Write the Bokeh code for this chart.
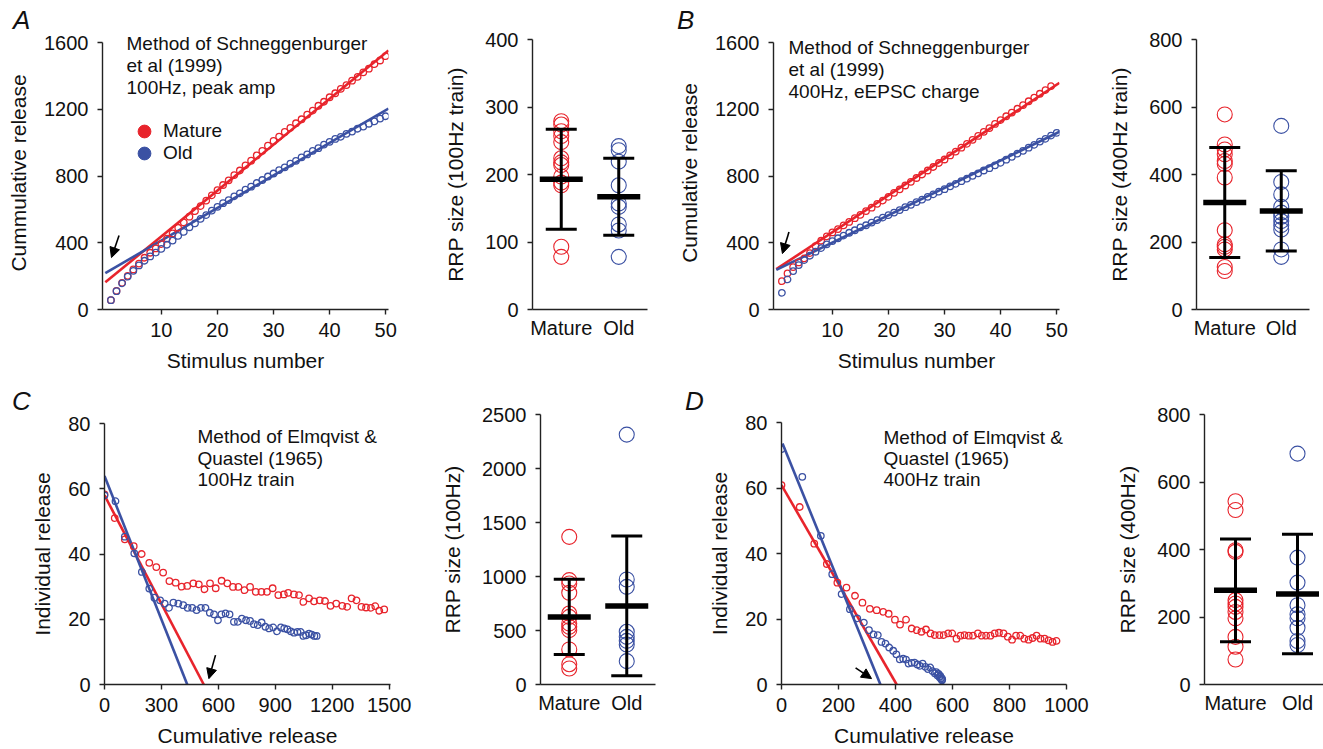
from bokeh.plotting import figure
from bokeh.models import (Range1d, FixedTicker, Label, Arrow, NormalHead, Legend,
                          LegendItem, ColumnDataSource, Div)
from bokeh.layouts import row, column
from bokeh.embed import file_html
from bokeh.resources import INLINE

# ----------------------------------------------------------------- data
groups = ["Mature", "Old"]

# Panel A : Schneggenburger, 100 Hz, peak amp
stim_A = list(range(1, 51))
cum_A_mature = [56, 112, 160, 202, 240, 275, 310, 340, 366, 392,
                425, 456, 490, 522, 556, 589, 620, 652, 684, 715,
                746, 774, 805, 833, 864, 892, 923, 951, 982, 1010,
                1036, 1064, 1088, 1116, 1140, 1168, 1192, 1221, 1245, 1272,
                1296, 1322, 1345, 1371, 1394, 1421, 1443, 1470, 1492, 1518]
cum_A_old = [56, 110, 157, 197, 232, 264, 292, 318, 341, 363,
             388, 413, 441, 465, 493, 516, 543, 566, 592, 615,
             637, 656, 678, 696, 718, 736, 758, 776, 797, 815,
             835, 852, 874, 891, 912, 929, 950, 967, 988, 1005,
             1022, 1035, 1053, 1066, 1083, 1096, 1113, 1127, 1144, 1158]
fit_x_A = [0, 50.5]
fit_A_mature = [163, 1552]
fit_A_old = [218, 1204]

# Panel B : Schneggenburger, 400 Hz, eEPSC charge
stim_B_mature = list(range(1, 50))
stim_B_old = list(range(1, 51))
cum_B_mature = [170, 216, 254, 282, 306, 338, 380, 412, 438, 462,
                482, 504, 525, 547, 567, 590, 610, 633, 653, 675,
                699, 720, 743, 765, 788, 809, 833, 854, 878, 899,
                923, 946, 970, 993, 1017, 1040, 1065, 1087, 1112, 1135,
                1158, 1180, 1203, 1225, 1248, 1270, 1293, 1315, 1338]
cum_B_old = [100, 180, 230, 266, 296, 322, 346, 368, 390, 410,
             427, 443, 460, 475, 492, 505, 521, 535, 551, 565,
             581, 596, 613, 627, 644, 658, 675, 690, 706, 721,
             738, 753, 769, 784, 801, 816, 833, 847, 864, 879,
             898, 915, 934, 951, 970, 987, 1006, 1023, 1042, 1059]
fit_x_B_mature = [0, 50.5]
fit_B_mature = [242, 1358]
fit_x_B_old = [0, 50.8]
fit_B_old = [237, 1070]

# Panel C : Elmqvist & Quastel, 100 Hz
cum_C_mature = [0, 54, 107, 154, 196, 236, 273, 309, 342, 375,
                407, 436, 468, 497, 527, 556, 586, 617, 647, 677,
                706, 738, 767, 797, 827, 856, 886, 916, 945, 968,
                998, 1025, 1048, 1078, 1104, 1134, 1162, 1191, 1221, 1253,
                1279, 1302, 1328, 1354, 1378, 1404, 1427, 1448, 1474]
ind_C_mature = [58.3, 51, 44.5, 42.4, 40, 37.3, 36, 34.3, 31.7, 31.2,
                30, 30.2, 31, 30.7, 29.2, 31, 29.5, 31.8, 31, 29.9,
                29.9, 28.9, 29.9, 28.4, 28.4, 28.4, 29.5, 27.4, 27.6, 28.1,
                27.6, 27.4, 25.3, 26.4, 25.5, 25.8, 25.6, 24.1, 24.8, 24.1,
                23.8, 26.4, 25.8, 23.8, 23.6, 23.5, 24, 22.6, 23]
cum_C_old = [0, 58, 107, 157, 197, 236, 263, 293, 317, 340,
             363, 389, 415, 438, 462, 485, 508, 532, 555, 577,
             598, 616, 638, 659, 682, 703, 724, 746, 767, 787,
             807, 828, 848, 868, 889, 909, 930, 947, 964, 982,
             999, 1017, 1034, 1048, 1062, 1078, 1092, 1106, 1118]
ind_C_old = [58, 56.2, 45.3, 40.2, 34.5, 29.4, 26.6, 25.8, 24.8, 23.5,
             25.1, 24.8, 24.3, 23.5, 23.5, 22.8, 23.5, 23.5, 22, 21.5,
             19.7, 21.5, 21.8, 21.5, 19.2, 19.2, 20.2, 19.7, 19.5, 18.5,
             18.2, 19, 17.7, 17.2, 17.5, 16.3, 17.5, 17.2, 16.9, 16.3,
             15.9, 16.1, 16.1, 14.9, 15.1, 15.6, 15.3, 14.9, 14.9]
fit_C_mature_x = [0, 523]
fit_C_mature_y = [58, 0]
fit_C_old_x = [0, 436]
fit_C_old_y = [63.9, 0]

# Panel D : Elmqvist & Quastel, 400 Hz
cum_D_mature = [0, 64, 115, 159, 196, 228, 258, 284, 310, 334,
                357, 376, 398, 416, 437, 457, 475, 491, 507, 523,
                538, 554, 569, 585, 599, 614, 628, 642, 657, 672,
                689, 703, 718, 733, 748, 763, 779, 794, 809, 823,
                838, 852, 867, 881, 895, 909, 923, 937, 951, 965]
ind_D_mature = [60.9, 54.2, 43, 36.8, 31.1, 29.6, 27.1, 25, 23.1, 22.7,
                22.2, 21.6, 19.8, 18.3, 19.8, 17.1, 16.6, 16.1, 16.8, 15.6,
                15.1, 15.1, 15.1, 15.6, 15.6, 14, 14.9, 15.1, 14.9, 14.9,
                15.6, 14.9, 14.9, 14.9, 15.6, 15.8, 15.6, 14.6, 13.7, 14.9,
                14.9, 14, 13.7, 14.2, 14.9, 14, 14, 13.5, 13, 13.3]
cum_D_old = [0, 73, 138, 178, 211, 240, 266, 289, 307, 323,
             338, 351, 365, 378, 392, 403, 415, 427, 437, 446,
             457, 467, 477, 486, 495, 505, 514, 522, 530, 538,
             543, 547, 551, 554, 557, 559, 561, 563, 564]
ind_D_old = [71.9, 63.4, 45.4, 33.7, 27.6, 23, 20.2, 18.9, 16.6, 15.3,
             15.1, 13, 12.5, 11.3, 10.3, 9.2, 7.7, 7.9, 7.6, 6.4,
             6.6, 6.7, 6.1, 5.7, 6.4, 5.4, 4.7, 5.2, 4.1, 3.4,
             3.8, 2.8, 3.2, 2.3, 2.6, 1.8, 2.0, 1.3, 1.6]
fit_D_mature_x = [0, 404]
fit_D_mature_y = [60.9, 0]
fit_D_old_x = [3.5, 347]
fit_D_old_y = [73.6, 0]

# RRP size scatter panels
rrp_A_mature = [279, 274, 264, 257, 248, 224, 218, 214, 197, 188, 184, 93, 78]
rrp_A_old = [242, 236, 219, 184, 157, 152, 126, 117, 78]
mean_A = [193, 167]
sd_A = [74, 57]

rrp_B_mature = [578, 489, 474, 460, 440, 431, 391, 235, 193, 186, 178, 126, 114]
rrp_B_old = [544, 378, 341, 304, 287, 275, 262, 250, 237, 178, 156]
mean_B = [317, 292]
sd_B = [163, 119]

rrp_C_mature = [1367, 966, 935, 849, 657, 626, 565, 534, 503, 324, 188, 148]
rrp_C_old = [2314, 972, 904, 488, 441, 404, 370, 216]
mean_C = [626, 728]
sd_C = [349, 646]

rrp_D_mature = [543, 517, 398, 393, 250, 240, 230, 215, 196, 141, 112, 74]
rrp_D_old = [684, 376, 302, 235, 208, 196, 168, 129, 117]
mean_D = [279, 268]
sd_D = [152, 177]

# ----------------------------------------------------------------- style
FONT = "Liberation Sans"
RED = "#e8242c"
BLUE = "#3b51a3"
AX = "#222222"
TXT = "#111111"


def make_fig(fw, fh, left, top, right, bottom, xr, yr, xticks, yticks,
             xlabel=None, ylabel=None, xtick_out=5, xlab_overrides=None,
             ybounds=None, ylab_standoff=11):
    p = figure(frame_width=fw, frame_height=fh,
               x_range=Range1d(*xr), y_range=Range1d(*yr),
               output_backend="svg", toolbar_location=None,
               min_border_left=left, min_border_top=top,
               min_border_right=right, min_border_bottom=bottom)
    p.outline_line_color = None
    p.xgrid.visible = False
    p.ygrid.visible = False
    p.background_fill_color = "white"
    p.border_fill_color = "white"
    p.xaxis.ticker = FixedTicker(ticks=xticks)
    p.yaxis.ticker = FixedTicker(ticks=yticks)
    if ybounds:
        p.yaxis.bounds = ybounds
    if xlab_overrides:
        p.xaxis.major_label_overrides = xlab_overrides
    for ax in p.axis:
        ax.axis_line_color = AX
        ax.axis_line_width = 1.4
        ax.major_tick_line_color = AX
        ax.major_tick_line_width = 1.4
        ax.major_tick_in = 0
        ax.minor_tick_line_color = None
        ax.major_label_text_font = FONT
        ax.major_label_text_font_size = "20px"
        ax.major_label_text_color = TXT
        ax.axis_label_text_font = FONT
        ax.axis_label_text_font_size = "21px"
        ax.axis_label_text_font_style = "normal"
        ax.axis_label_text_color = TXT
    p.yaxis.major_tick_out = 5
    p.yaxis.major_label_standoff = 9
    p.yaxis.axis_label_standoff = ylab_standoff
    p.xaxis.major_tick_out = xtick_out
    p.xaxis.major_label_standoff = 8 if xtick_out else 7
    p.xaxis.axis_label_standoff = 9
    if xlabel:
        p.xaxis.axis_label = xlabel
    if ylabel:
        p.yaxis.axis_label = ylabel
    return p


def letter_strip(width, height, letter, left, top):
    html = ('<div style="margin:0; padding:%dpx 0 0 %dpx; font-family:\'Liberation Sans\';'
            ' font-style:italic; font-size:26px; line-height:26px; color:#111;">%s</div>'
            % (top, left, letter))
    return Div(text=html, width=width, height=height, margin=0)


def add_text(p, x, y, text, size="19px"):
    p.add_layout(Label(x=x, y=y, x_units="screen", y_units="screen", text=text,
                       text_font=FONT, text_font_size=size,
                       text_color=TXT, text_baseline="middle", text_align="left"))


def add_arrow(p, x0, y0, x1, y1):
    p.add_layout(Arrow(end=NormalHead(size=10, fill_color="black", line_color="black",
                                      line_width=1),
                       x_start=x0, y_start=y0, x_end=x1, y_end=y1,
                       line_color="black", line_width=1.6))


def cum_points(p, x, y, color):
    p.scatter(x, y, marker="circle", size=6.5, fill_color=None,
              line_color=color, line_width=1.3)


def fit_line(p, x, y, color):
    p.line(x, y, line_color=color, line_width=2.6)


def rrp_panel(fw, left, top, right, bottom, xmax, ymax, yticks, ylabel,
              mature, old, means, sds):
    p = make_fig(fw, 270, left, top, right, bottom, (0, xmax), (0, ymax),
                 [1, 3], yticks, ylabel=ylabel, xtick_out=0,
                 xlab_overrides={1: groups[0], 3: groups[1]}, ylab_standoff=15)
    pos = [2 * i + 1 for i in range(len(groups))]
    unit = fw / xmax
    cap = 15.5 / unit
    bar = 21.5 / unit
    p.scatter([pos[0]] * len(mature), mature, marker="circle", size=15,
              fill_color=None, line_color=RED, line_width=1.1)
    p.scatter([pos[1]] * len(old), old, marker="circle", size=15,
              fill_color=None, line_color=BLUE, line_width=1.1)
    lo = [m - s for m, s in zip(means, sds)]
    hi = [m + s for m, s in zip(means, sds)]
    p.segment(pos, lo, pos, hi, line_color="black", line_width=3)
    p.segment([c - cap for c in pos], hi, [c + cap for c in pos], hi,
              line_color="black", line_width=3)
    p.segment([c - cap for c in pos], lo, [c + cap for c in pos], lo,
              line_color="black", line_width=3)
    p.segment([c - bar for c in pos], means, [c + bar for c in pos], means,
              line_color="black", line_width=5.5, line_cap="butt")
    return p


# frame of A/B reaches a little above the 1600 tick so the notes fit inside it
YTOP_AB = 1600 * 273 / 267

# ----------------------------------------------------------------- row 1
pA = make_fig(286, 273, 102, 6, 50, 65, (-0.5, 50.5), (0, YTOP_AB),
              [10, 20, 30, 40, 50], [0, 400, 800, 1200, 1600],
              xlabel="Stimulus number", ylabel="Cummulative release",
              ybounds=(0, 1600))
fit_line(pA, fit_x_A, fit_A_mature, RED)
fit_line(pA, fit_x_A, fit_A_old, BLUE)
cum_points(pA, stim_A, cum_A_mature, RED)
cum_points(pA, stim_A, cum_A_old, BLUE)
add_text(pA, 24, 266, "Method of Schneggenburger")
add_text(pA, 24, 244, "et al (1999)")
add_text(pA, 24, 222, "100Hz, peak amp")
add_arrow(pA, 2.45, 443, 1.1, 311)
for lab, col, ly in ((groups[0], RED, 162), (groups[1], BLUE, 140)):
    r = pA.scatter("x", "y", source=ColumnDataSource(dict(x=[float("nan")], y=[float("nan")])),
                   marker="circle", size=13, fill_color=col, line_color=col)
    pA.add_layout(Legend(items=[LegendItem(label=lab, renderers=[r])],
                         location=(26, ly), glyph_width=32, glyph_height=32,
                         label_standoff=3, padding=0, margin=0, spacing=0,
                         border_line_color=None, background_fill_alpha=0,
                         label_text_font=FONT, label_text_font_size="19px",
                         label_text_color=TXT))
colA = column(letter_strip(438, 30, "A", 13, 7), pA, spacing=0)

pAr = rrp_panel(115, 94, 39, 13, 65, 4, 400, [0, 100, 200, 300, 400],
                "RRP size (100Hz train)", rrp_A_mature, rrp_A_old, mean_A, sd_A)

pB = make_fig(286, 273, 113, 6, 41, 65, (-0.5, 50.5), (0, YTOP_AB),
              [10, 20, 30, 40, 50], [0, 400, 800, 1200, 1600],
              xlabel="Stimulus number", ylabel="Cumulative release",
              ybounds=(0, 1600))
fit_line(pB, fit_x_B_mature, fit_B_mature, RED)
fit_line(pB, fit_x_B_old, fit_B_old, BLUE)
cum_points(pB, stim_B_mature, cum_B_mature, RED)
cum_points(pB, stim_B_old, cum_B_old, BLUE)
add_text(pB, 15, 262, "Method of Schneggenburger")
add_text(pB, 15, 240, "et al (1999)")
add_text(pB, 15, 218, "400Hz, eEPSC charge")
add_arrow(pB, 2.26, 465, 1.09, 335)
colB = column(letter_strip(440, 30, "B", 17, 7), pB, spacing=0)

pBr = rrp_panel(113, 96, 39, 14, 65, 4, 800, [0, 200, 400, 600, 800],
                "RRP size (400Hz train)", rrp_B_mature, rrp_B_old, mean_B, sd_B)

# ----------------------------------------------------------------- row 2
pC = make_fig(286, 261, 104, 12, 48, 65, (0, 1507), (0, 80),
              [0, 300, 600, 900, 1200, 1500], [0, 20, 40, 60, 80],
              xlabel="Cumulative release", ylabel="Individual release")
fit_line(pC, fit_C_mature_x, fit_C_mature_y, RED)
fit_line(pC, fit_C_old_x, fit_C_old_y, BLUE)
cum_points(pC, cum_C_mature, ind_C_mature, RED)
cum_points(pC, cum_C_old, ind_C_old, BLUE)
add_text(pC, 93, 248, "Method of Elmqvist &")
add_text(pC, 93, 226, "Quastel (1965)")
add_text(pC, 93, 205, "100Hz train")
add_arrow(pC, 585, 9.0, 550, 1.8)
colC = column(letter_strip(438, 37, "C", 12, 14), pC, spacing=0)

pCr = rrp_panel(115, 94, 40, 13, 65, 4, 2500, [0, 500, 1000, 1500, 2000, 2500],
                "RRP size (100Hz)", rrp_C_mature, rrp_C_old, mean_C, sd_C)

pD = make_fig(285, 262, 113, 11, 42, 65, (0, 1000), (0, 80),
              [0, 200, 400, 600, 800, 1000], [0, 20, 40, 60, 80],
              xlabel="Cumulative release", ylabel="Individual release")
fit_line(pD, fit_D_mature_x, fit_D_mature_y, RED)
fit_line(pD, fit_D_old_x, fit_D_old_y, BLUE)
cum_points(pD, cum_D_mature, ind_D_mature, RED)
cum_points(pD, cum_D_old, ind_D_old, BLUE)
add_text(pD, 102, 247, "Method of Elmqvist &")
add_text(pD, 102, 226, "Quastel (1965)")
add_text(pD, 102, 205, "400Hz train")
add_arrow(pD, 260, 5.07, 316, 1.8)
colD = column(letter_strip(440, 37, "D", 17, 14), pD, spacing=0)

pDr = rrp_panel(124, 96, 40, 3, 65, 4, 800, [0, 200, 400, 600, 800],
                "RRP size (400Hz)", rrp_D_mature, rrp_D_old, mean_D, sd_D)

layout = column(row(colA, pAr, colB, pBr, spacing=0),
                row(colC, pCr, colD, pDr, spacing=0), spacing=0)

open("out.html", "w").write(file_html(layout, INLINE))
